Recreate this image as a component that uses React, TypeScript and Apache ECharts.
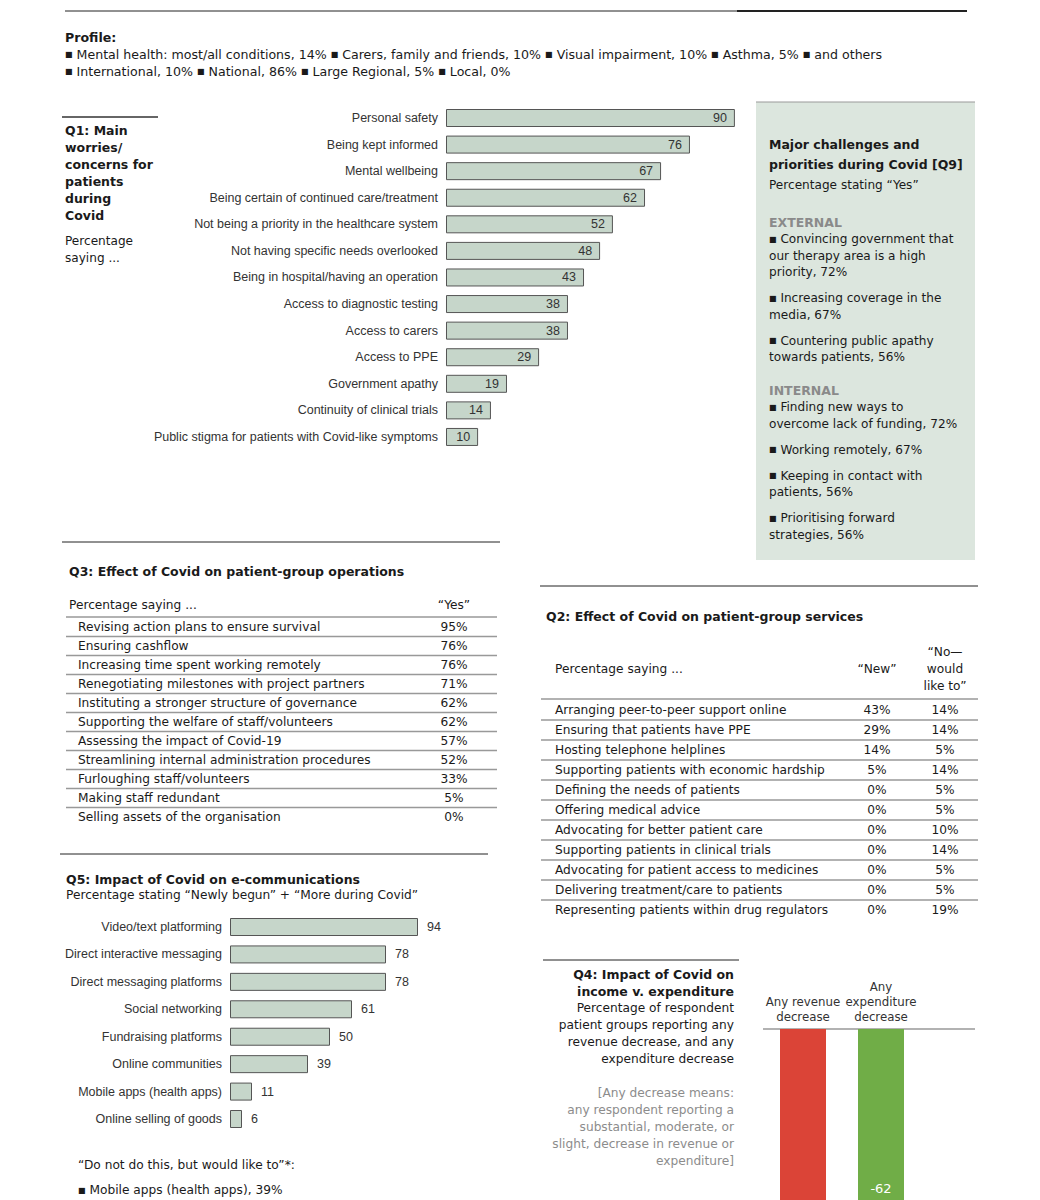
import React, { useEffect, useRef } from "react";
import * as echarts from "echarts";

// ---------- DATA ----------
const profileConditions = ["Mental health: most/all conditions", "Carers, family and friends", "Visual impairment", "Asthma"];
const profileConditionValues = [14, 10, 10, 5];
const profileScopes = ["International", "National", "Large Regional", "Local"];
const profileScopeValues = [10, 86, 5, 0];

const q1Categories = [
  "Personal safety",
  "Being kept informed",
  "Mental wellbeing",
  "Being certain of continued care/treatment",
  "Not being a priority in the healthcare system",
  "Not having specific needs overlooked",
  "Being in hospital/having an operation",
  "Access to diagnostic testing",
  "Access to carers",
  "Access to PPE",
  "Government apathy",
  "Continuity of clinical trials",
  "Public stigma for patients with Covid-like symptoms",
];
const q1Values = [90, 76, 67, 62, 52, 48, 43, 38, 38, 29, 19, 14, 10];

const q9External = [
  "Convincing government that\nour therapy area is a high\npriority",
  "Increasing coverage in the\nmedia",
  "Countering public apathy\ntowards patients",
];
const q9ExternalValues = [72, 67, 56];
const q9Internal = [
  "Finding new ways to\novercome lack of funding",
  "Working remotely",
  "Keeping in contact with\npatients",
  "Prioritising forward\nstrategies",
];
const q9InternalValues = [72, 67, 56, 56];

const q3Items = [
  "Revising action plans to ensure survival",
  "Ensuring cashflow",
  "Increasing time spent working remotely",
  "Renegotiating milestones with project partners",
  "Instituting a stronger structure of governance",
  "Supporting the welfare of staff/volunteers",
  "Assessing the impact of Covid-19",
  "Streamlining internal administration procedures",
  "Furloughing staff/volunteers",
  "Making staff redundant",
  "Selling assets of the organisation",
];
const q3Yes = [95, 76, 76, 71, 62, 62, 57, 52, 33, 5, 0];

const q2Items = [
  "Arranging peer-to-peer support online",
  "Ensuring that patients have PPE",
  "Hosting telephone helplines",
  "Supporting patients with economic hardship",
  "Defining the needs of patients",
  "Offering medical advice",
  "Advocating for better patient care",
  "Supporting patients in clinical trials",
  "Advocating for patient access to medicines",
  "Delivering treatment/care to patients",
  "Representing patients within drug regulators",
];
const q2New = [43, 29, 14, 5, 0, 0, 0, 0, 0, 0, 0];
const q2WouldLike = [14, 14, 5, 14, 5, 5, 10, 14, 5, 5, 19];

const q5Categories = [
  "Video/text platforming",
  "Direct interactive messaging",
  "Direct messaging platforms",
  "Social networking",
  "Fundraising platforms",
  "Online communities",
  "Mobile apps (health apps)",
  "Online selling of goods",
];
const q5Values = [94, 78, 78, 61, 50, 39, 11, 6];
const q5WouldLikeItems = ["Mobile apps (health apps)"];
const q5WouldLikeValues = [39];

const q4Categories = ["Any revenue\ndecrease", "Any\nexpenditure\ndecrease"];
const q4Values = [-81, -62];

// ---------- STYLE ----------
const V = "'DejaVu Sans', Verdana, sans-serif";
const T = "'Liberation Sans', Arial, sans-serif";
const INK = "#1a1a1a";
const BAR = "#c6d6ca";
const BOX = "#dce6de";
const FS = 12.2; // body text size
const FB = 12.5; // bold headings size

type TOpts = { size?: number; weight?: string; family?: string; fill?: string; align?: string };
function txt(x: number, y: number, text: string, o: TOpts = {}) {
  const align = o.align || "left";
  const size = o.size || FS;
  const family = o.family || V;
  const fill = o.fill || INK;
  const hasBullet = text.indexOf("■") >= 0;
  const style: any = {
    text: hasBullet ? text.split("■").join("{b|■}") : text,
    fill,
    font: `${o.weight || "normal"} ${size}px ${family}`,
    align,
    textAlign: align,
    verticalAlign: "middle",
    textVerticalAlign: "middle",
  };
  if (hasBullet) {
    style.rich = { b: { fontSize: Math.round(size * 0.62), fontFamily: family, fill, verticalAlign: "middle" } };
  }
  return { type: "text", x, y, silent: true, style };
}
function lines(x: number, y: number, text: string, step: number, o: TOpts = {}) {
  return text.split("\n").map((t, i) => txt(x, y + i * step, t, o));
}
function hline(x1: number, x2: number, y: number, color = "#222", w = 1) {
  return { type: "line", silent: true, shape: { x1, y1: y, x2, y2: y }, style: { stroke: color, lineWidth: w } };
}

function buildGraphics() {
  const g: any[] = [];
  // top rule
  g.push(hline(65, 737, 11, "#222", 1));
  g.push(hline(737, 967, 11, "#222", 2));
  // profile
  g.push(txt(65, 37, "Profile:", { weight: "bold", size: 12.6 }));
  const p1 = profileConditions.map((c, i) => `■ ${c}, ${profileConditionValues[i]}%`).join(" ") + " ■ and others";
  const p2 = profileScopes.map((c, i) => `■ ${c}, ${profileScopeValues[i]}%`).join(" ");
  g.push(txt(65, 54, p1, { size: 12.6 }));
  g.push(txt(65, 71, p2, { size: 12.6 }));

  // Q1 heading
  g.push(hline(62, 158, 117, "#333", 1.5));
  g.push(...lines(65, 130, "Q1: Main\nworries/\nconcerns for\npatients\nduring\nCovid", 17, { weight: "bold", size: FB }));
  g.push(...lines(65, 241, "Percentage\nsaying ...", 17, { size: 12.1 }));

  // Q9 box
  g.push({ type: "rect", silent: true, shape: { x: 756, y: 102, width: 219, height: 458 }, style: { fill: BOX } });
  g.push(hline(756, 975, 102, "#999", 1));
  g.push(txt(769, 144, "Major challenges and", { weight: "bold", size: FB }));
  g.push(txt(769, 164, "priorities during Covid [Q9]", { weight: "bold", size: FB }));
  g.push(txt(769, 185, "Percentage stating “Yes”", { size: 12.1 }));
  const step = 16.7;
  let y = 222;
  g.push(txt(769, y, "EXTERNAL", { weight: "bold", size: FB, fill: "#8a8a8a" }));
  y += 17;
  q9External.forEach((it, i) => {
    const t = `■ ${it}, ${q9ExternalValues[i]}%`;
    g.push(...lines(769, y, t, step, { size: 12.1 }));
    y += (t.split("\n").length - 1) * step + 25.8;
  });
  y = y - 25.8 + 33;
  g.push(txt(769, y, "INTERNAL", { weight: "bold", size: FB, fill: "#8a8a8a" }));
  y += 17;
  q9Internal.forEach((it, i) => {
    const t = `■ ${it}, ${q9InternalValues[i]}%`;
    g.push(...lines(769, y, t, step, { size: 12.1 }));
    y += (t.split("\n").length - 1) * step + 25.8;
  });

  // Q3 table
  g.push(hline(62, 500, 542, "#222", 1));
  g.push(txt(69, 571, "Q3: Effect of Covid on patient-group operations", { weight: "bold", size: FB }));
  g.push(txt(69, 605, "Percentage saying ..."));
  g.push(txt(454, 605, "“Yes”", { align: "center" }));
  g.push(hline(66, 497, 617, "#999", 1.5));
  q3Items.forEach((it, i) => {
    const ry = 627 + i * 19;
    g.push(txt(78, ry, it));
    g.push(txt(454, ry, `${q3Yes[i]}%`, { align: "center" }));
    if (i < q3Items.length - 1) g.push(hline(66, 497, ry + 9.5, "#999", 1.5));
  });

  // Q2 table
  g.push(hline(540, 978, 586, "#222", 1));
  g.push(txt(546, 616, "Q2: Effect of Covid on patient-group services", { weight: "bold", size: FB }));
  g.push(txt(555, 669, "Percentage saying ..."));
  g.push(txt(877, 669, "“New”", { align: "center" }));
  g.push(...lines(945, 652, "“No—\nwould\nlike to”", 17, { align: "center" }));
  g.push(hline(541, 978, 699, "#999", 1.5));
  q2Items.forEach((it, i) => {
    const ry = 710 + i * 20;
    g.push(txt(555, ry, it));
    g.push(txt(877, ry, `${q2New[i]}%`, { align: "center" }));
    g.push(txt(945, ry, `${q2WouldLike[i]}%`, { align: "center" }));
    if (i < q2Items.length - 1) g.push(hline(541, 978, ry + 10, "#999", 1.5));
  });

  // Q5 heading
  g.push(hline(60, 488, 854, "#222", 1));
  g.push(txt(66, 879, "Q5: Impact of Covid on e-communications", { weight: "bold", size: FB }));
  g.push(txt(66, 895, "Percentage stating “Newly begun” + “More during Covid”"));
  g.push(txt(78, 1165, "“Do not do this, but would like to”*:"));
  q5WouldLikeItems.forEach((it, i) => {
    g.push(txt(78, 1190 + i * 17, `■ ${it}, ${q5WouldLikeValues[i]}%`));
  });

  // Q4 heading
  g.push(hline(543, 739, 960, "#222", 1));
  g.push(...lines(734, 974, "Q4: Impact of Covid on\nincome v. expenditure", 17, { weight: "bold", size: FB, align: "right" }));
  g.push(
    ...lines(734, 1008, "Percentage of respondent\npatient groups reporting any\nrevenue decrease, and any\nexpenditure decrease", 17, {
      align: "right",
    })
  );
  g.push(
    ...lines(
      734,
      1093,
      "[Any decrease means:\nany respondent reporting a\nsubstantial, moderate, or\nslight, decrease in revenue or\nexpenditure]",
      17,
      { align: "right", fill: "#8c8c8c" }
    )
  );
  g.push(hline(763, 975, 1029, "#999", 1.5));
  return g;
}

function buildOption() {
  const q1Band = 26.58;
  const q5Band = 27.43;
  return {
    animation: false,
    backgroundColor: "#ffffff",
    graphic: { elements: buildGraphics() },
    grid: [
      { left: 446, top: 118 - q1Band / 2, width: 321, height: q1Band * q1Categories.length, outerBoundsMode: "none", containLabel: false },
      { left: 230, top: 927 - q5Band / 2, width: 200, height: q5Band * q5Categories.length, outerBoundsMode: "none", containLabel: false },
      { left: 764, top: 1029, width: 156, height: 276, outerBoundsMode: "none", containLabel: false },
    ],
    xAxis: [
      { gridIndex: 0, type: "value", min: 0, max: 100, show: false },
      { gridIndex: 1, type: "value", min: 0, max: 100, show: false },
      {
        gridIndex: 2,
        type: "category",
        position: "top",
        data: q4Categories,
        axisLine: { show: false },
        axisTick: { show: false },
        axisLabel: { interval: 0, color: "#333", fontFamily: V, fontSize: 11.8, lineHeight: 15, margin: 5, hideOverlap: false },
      },
    ],
    yAxis: [
      {
        gridIndex: 0,
        type: "category",
        inverse: true,
        data: q1Categories,
        axisLine: { show: false },
        axisTick: { show: false },
        axisLabel: { interval: 0, color: "#333", fontFamily: T, fontSize: 12.5, margin: 8 },
      },
      {
        gridIndex: 1,
        type: "category",
        inverse: true,
        data: q5Categories,
        axisLine: { show: false },
        axisTick: { show: false },
        axisLabel: { interval: 0, color: "#333", fontFamily: T, fontSize: 12.5, margin: 8 },
      },
      { gridIndex: 2, type: "value", min: -100, max: 0, show: false },
    ],
    series: [
      {
        type: "bar",
        xAxisIndex: 0,
        yAxisIndex: 0,
        data: q1Values,
        barWidth: 18,
        itemStyle: { color: BAR, borderColor: "#555", borderWidth: 1 },
        label: { show: true, position: "insideRight", distance: 8, color: "#333", fontFamily: T, fontSize: 12.5 },
      },
      {
        type: "bar",
        xAxisIndex: 1,
        yAxisIndex: 1,
        data: q5Values,
        barWidth: 18,
        itemStyle: { color: BAR, borderColor: "#555", borderWidth: 1 },
        label: { show: true, position: "right", distance: 9, color: "#333", fontFamily: T, fontSize: 12.5 },
      },
      {
        type: "bar",
        xAxisIndex: 2,
        yAxisIndex: 2,
        data: q4Values.map((v, i) => ({
          value: v,
          itemStyle: { color: i === 0 ? "#db4437" : "#70ad47" },
          // the revenue bar's label falls below the page edge, as in the reference
          label: { show: i !== 0 },
        })),
        barWidth: 46,
        label: { show: true, position: "insideBottom", distance: 5, color: "#ffffff", fontFamily: V, fontSize: 13 },
      },
    ],
  };
}

export default function App() {
  const ref = useRef<HTMLDivElement>(null);
  useEffect(() => {
    if (!ref.current) return;
    const chart = echarts.init(ref.current, null, { renderer: "svg" });
    chart.setOption(buildOption() as any);
    return () => chart.dispose();
  }, []);
  return <div ref={ref} style={{ position: "absolute", left: 0, top: 0, width: 1040, height: 1200 }} />;
}
